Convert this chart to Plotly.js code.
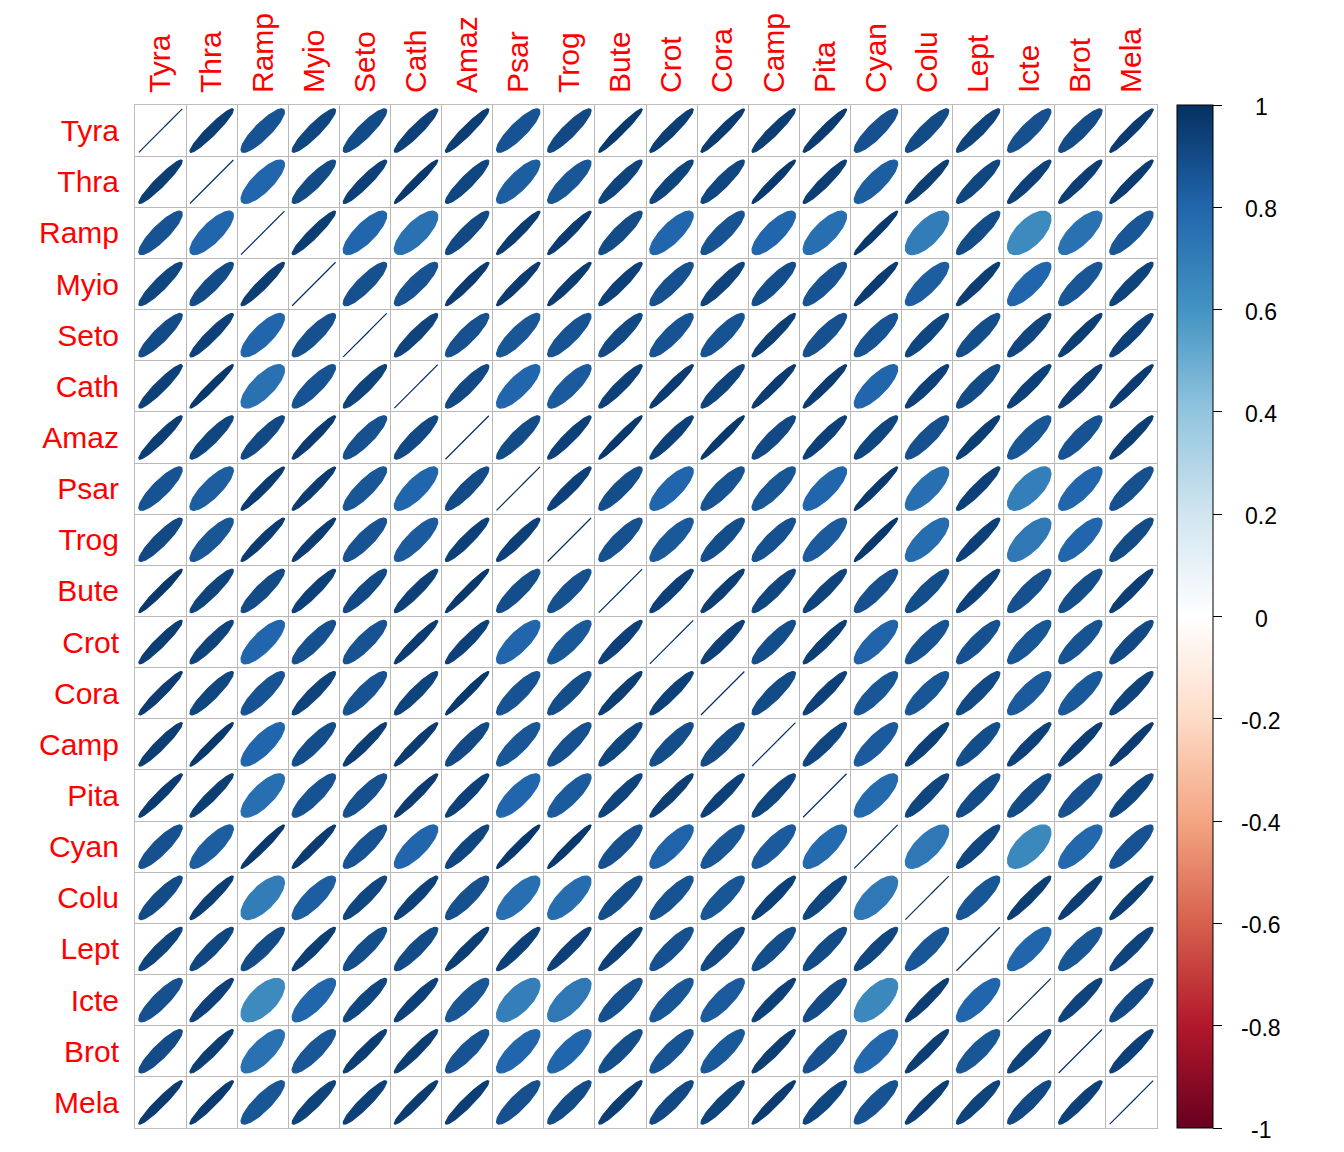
<!DOCTYPE html>
<html><head><meta charset="utf-8">
<script src="https://cdn.plot.ly/plotly-3.0.1.min.js"></script>
<style>body{margin:0;background:#fff}#chart{width:1344px;height:1152px}</style>
</head><body><div id="chart"></div>
<script>
const labels = ["Tyra","Thra","Ramp","Myio","Seto","Cath","Amaz","Psar","Trog","Bute","Crot","Cora","Camp","Pita","Cyan","Colu","Lept","Icte","Brot","Mela"];

// upper-triangle correlations: each row lists the variables to the right of the diagonal
const corTyra = [0.95,0.87,0.92,0.90,0.94,0.95,0.87,0.91,0.97,0.95,0.96,0.95,0.96,0.88,0.90,0.93,0.88,0.90,0.96];
const corThra = [0.80,0.90,0.94,0.97,0.92,0.83,0.86,0.93,0.93,0.92,0.97,0.95,0.83,0.95,0.92,0.94,0.95,0.96];
const corRamp = [0.95,0.80,0.75,0.91,0.96,0.96,0.90,0.80,0.87,0.80,0.76,0.97,0.70,0.90,0.64,0.75,0.86];
const corMyio = [0.88,0.87,0.96,0.96,0.96,0.94,0.88,0.93,0.89,0.87,0.96,0.83,0.95,0.80,0.86,0.93];
const corSeto = [0.93,0.88,0.86,0.87,0.91,0.87,0.87,0.95,0.88,0.87,0.92,0.89,0.92,0.95,0.94];
const corCath = [0.91,0.80,0.84,0.94,0.96,0.93,0.96,0.96,0.80,0.94,0.90,0.94,0.95,0.96];
const corAmaz = [0.90,0.94,0.97,0.94,0.97,0.91,0.94,0.92,0.88,0.95,0.86,0.87,0.95];
const corPsar = [0.94,0.89,0.80,0.87,0.86,0.80,0.97,0.76,0.94,0.69,0.80,0.88];
const corTrog = [0.88,0.85,0.89,0.88,0.84,0.97,0.77,0.94,0.72,0.80,0.90];
const corBute = [0.94,0.95,0.92,0.93,0.88,0.89,0.94,0.88,0.89,0.95];
const corCrot = [0.94,0.89,0.95,0.81,0.87,0.88,0.86,0.87,0.91];
const corCora = [0.90,0.94,0.86,0.86,0.91,0.84,0.85,0.93];
const corCamp = [0.92,0.84,0.94,0.89,0.94,0.95,0.96];
const corPita = [0.78,0.92,0.90,0.90,0.88,0.92];
const corCyan = [0.72,0.92,0.65,0.79,0.87];
const corColu = [0.86,0.95,0.95,0.95];
const corLept = [0.80,0.86,0.93];
const corIcte = [0.93,0.91];
const corBrot = [0.94];
const corMela = [];

const upperRows = [corTyra,corThra,corRamp,corMyio,corSeto,corCath,corAmaz,corPsar,corTrog,corBute,
                   corCrot,corCora,corCamp,corPita,corCyan,corColu,corLept,corIcte,corBrot,corMela];

const colorbarTicks = [-1,-0.8,-0.6,-0.4,-0.2,0,0.2,0.4,0.6,0.8,1];
const rdbu = ["#67001F","#B2182B","#D6604D","#F4A582","#FDDBC7","#FFFFFF","#D1E5F0","#92C5DE","#4393C3","#2166AC","#053061"];

const n = labels.length;
// build full symmetric matrix
const M = [];
for (let i = 0; i < n; i++) { M.push(new Array(n).fill(1)); }
for (let i = 0; i < n; i++) {
  upperRows[i].forEach((v, k) => { const j = i + 1 + k; M[i][j] = v; M[j][i] = v; });
}

function hexToRgb(h){ return [parseInt(h.slice(1,3),16),parseInt(h.slice(3,5),16),parseInt(h.slice(5,7),16)]; }
function colorFor(v){
  const p = (v + 1) / 2 * (rdbu.length - 1);
  let k = Math.floor(p); if (k >= rdbu.length - 1) k = rdbu.length - 2;
  const f = p - k;
  const a = hexToRgb(rdbu[k]), b = hexToRgb(rdbu[k+1]);
  const c = a.map((x, q) => Math.round(x + (b[q] - x) * f));
  return `rgb(${c[0]},${c[1]},${c[2]})`;
}

const traces = [];
const NPTS = 99;
for (let i = 0; i < n; i++) {
  for (let j = 0; j < n; j++) {
    const rho = M[i][j];
    const d = Math.acos(Math.max(-1, Math.min(1, rho)));
    const xs = [], ys = [];
    for (let t = 0; t < NPTS; t++) {
      const k = 2 * Math.PI * t / (NPTS - 1);
      xs.push((j + 1) + 0.85 * Math.cos(k + d / 2) / 2);
      ys.push((i + 1) - 0.85 * Math.cos(k - d / 2) / 2);
    }
    const col = colorFor(rho);
    traces.push({type:'scatter', mode:'lines', x:xs, y:ys, fill:'toself', fillcolor:col,
      line:{color:col, width:1.2}, hoverinfo:'skip', showlegend:false});
  }
}

// colour bar carrier
traces.push({type:'scatter', mode:'markers', x:[null], y:[null], showlegend:false, hoverinfo:'skip',
  marker:{color:[0], cmin:-1, cmax:1, colorscale: rdbu.map((c,k)=>[k/(rdbu.length-1), c]), showscale:true,
    colorbar:{x:(1177-135)/1022, xanchor:'left', xpad:0, ypad:0, y:0.5, yanchor:'middle', len:1, lenmode:'fraction',
      thickness:36, thicknessmode:'pixels', outlinewidth:1, outlinecolor:'#000', borderwidth:0,
      tickmode:'array', tickvals:colorbarTicks, ticks:'outside', ticklen:9, tickwidth:1, tickcolor:'#000',
      showticklabels:false}}});

const fontFam = 'Liberation Sans, Arial, sans-serif';
const annotations = colorbarTicks.map(v => ({
  xref:'paper', yref:'paper', x:(1261-135)/1022, y:(v + 1) / 2, xanchor:'center', yanchor:'middle', yshift:-2,
  text: (Math.abs(v) < 1e-9 ? '0' : (Number.isInteger(v) ? String(v) : v.toFixed(1))),
  showarrow:false, font:{family:fontFam, size:23, color:'#000'}
}));

const idx = labels.map((_, k) => k + 1);
const axisCommon = {
  tickmode:'array', tickvals:idx, ticktext:labels, ticks:'', showgrid:false, zeroline:false,
  showline:true, mirror:true, linecolor:'#BEBEBE', linewidth:1,
  minor:{tickmode:'linear', tick0:0.5, dtick:1, showgrid:true, gridcolor:'#B8B8B8', gridwidth:1, ticks:''},
  tickfont:{family:fontFam, size:30, color:'#FF0000'}, fixedrange:true
};

const layout = {
  width:1344, height:1152,
  margin:{l:135, r:187, t:105, b:24},
  paper_bgcolor:'#fff', plot_bgcolor:'#fff',
  xaxis:Object.assign({}, axisCommon, {range:[0.5, 20.5], side:'top', tickangle:-90, ticklabelstandoff:5}),
  yaxis:Object.assign({}, axisCommon, {range:[20.5, 0.5], ticklabelstandoff:9}),
  annotations: annotations,
  showlegend:false
};

Plotly.newPlot('chart', traces, layout, {displayModeBar:false, staticPlot:true});
</script>
</body></html>
